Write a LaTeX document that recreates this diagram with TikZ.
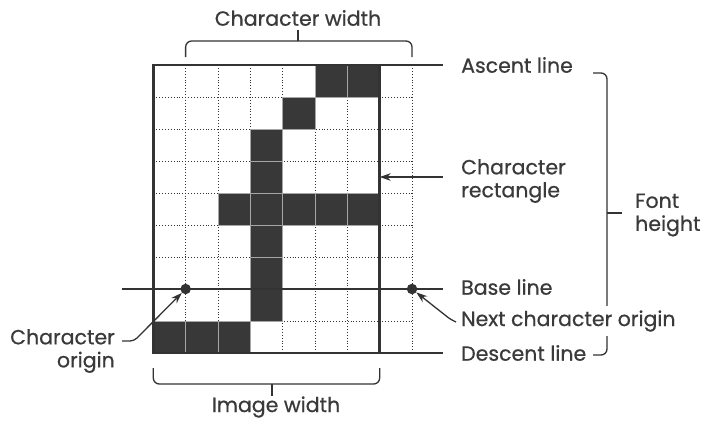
\documentclass[tikz,border=0pt]{standalone}
\usepackage{fontspec}
\setmainfont{Poppins}
\newfontfamily\lblfont{Poppins}[FakeBold=0.6]
\usetikzlibrary{arrows.meta}
\definecolor{ink}{HTML}{333333}
\definecolor{txt}{HTML}{3A3A3A}
\definecolor{cellfill}{HTML}{383838}
\begin{document}
\begin{tikzpicture}[x=1pt,y=-1pt,
  lbl/.style={font=\lblfont\fontsize{20.5}{23}\selectfont, text=txt, inner sep=1pt},
  gridline/.style={draw=ink, line width=0.9pt, dotted},
  thin/.style={draw=ink, line width=1.3pt},
  border/.style={draw=ink, line width=2.4pt},
  arr/.style={draw=ink, line width=1.3pt, -{Stealth[length=11pt,width=7.5pt]}},
  dot/.style={circle, fill=ink, inner sep=0pt, minimum size=10.5pt},
  brace/.style={draw=ink, line width=1.3pt, rounded corners=6pt},
  darkcell/.style={fill=cellfill, draw=gray!70, line width=0.6pt}]
\useasboundingbox (0,0) rectangle (706,426);
\fill[white] (0,0) rectangle (706,426);
\def\xo{153.3}\def\cw{32.34}\def\yo{65}\def\rh{32}
% dotted grid
\foreach \c in {1,...,8} \draw[gridline] ({\xo+\c*\cw},\yo) -- ({\xo+\c*\cw},{\yo+9*\rh});
\foreach \r in {1,...,8} \draw[gridline] (\xo,{\yo+\r*\rh}) -- ({\xo+8*\cw},{\yo+\r*\rh});
% filled cells
\foreach \c/\r in {5/0,6/0,4/1,3/2,3/3,2/4,3/4,4/4,5/4,6/4,3/5,3/6,3/7,0/8,1/8,2/8}
  \draw[darkcell] ({\xo+\c*\cw},{\yo+\r*\rh}) rectangle ({\xo+(\c+1)*\cw},{\yo+(\r+1)*\rh});
% character rectangle
\draw[border] (\xo,\yo) rectangle ({\xo+7*\cw},{\yo+9*\rh});
\coordinate (rectR) at ({\xo+7*\cw},177);
% extension lines
\draw[thin] ({\xo+7*\cw},\yo) -- (443,\yo);
\draw[thin] ({\xo+7*\cw},{\yo+9*\rh}) -- (443,{\yo+9*\rh});
\draw[thin] (122,{\yo+7*\rh}) -- (443,{\yo+7*\rh});
% origins
\node[dot] (co) at ({\xo+\cw},{\yo+7*\rh}) {};
\node[dot] (nco) at ({\xo+8*\cw},{\yo+7*\rh}) {};
% right labels
\node[lbl, anchor=west] (asc) at (460,65) {Ascent line};
\node[lbl, anchor=west, align=left] (crect) at (460,181) {Character\\rectangle};
\node[lbl, anchor=west] (base) at (460,287) {Base line};
\node[lbl, anchor=west] (desc) at (460,353) {Descent line};
% font height brace
\draw[brace] (593,73) -- (607,73) -- (607,355) -- (593,355);
\draw[thin] (607,213) -- (622,213);
\node[lbl, anchor=west, align=left] (fh) at (634,215) {Font\\height};
\node[lbl, anchor=west, fill=white, inner ysep=4pt] (next) at (460,321) {Next character origin};
% arrows
\coordinate (crs) at (443,177);
\draw[arr] (crs) -- (rectR);
\coordinate (n1) at (456,322);
\draw[arr, rounded corners=3pt] (n1) -- (450,319) -- (nco);
\node[lbl, anchor=east, align=right] (corig) at (116,351) {Character\\origin};
\coordinate (c1) at (122,341);
\draw[arr, rounded corners=4pt] (c1) -- (134,341) -- (co);
% top bracket
\draw[brace] ({\xo+\cw},57) -- ({\xo+\cw},41) -- ({\xo+8*\cw},41) -- ({\xo+8*\cw},57);
\coordinate (tt) at (298,41);
\node[lbl] (cw) at (298,18) {Character width};
\draw[thin] (tt) -- (298,30);
% bottom bracket
\draw[brace] (\xo,368) -- (\xo,384) -- ({\xo+7*\cw},384) -- ({\xo+7*\cw},368);
\coordinate (bt) at (272,384);
\node[lbl] (iw) at (276,407) {Image width};
\draw[thin] (bt) -- (272,396);
\end{tikzpicture}
\end{document}
